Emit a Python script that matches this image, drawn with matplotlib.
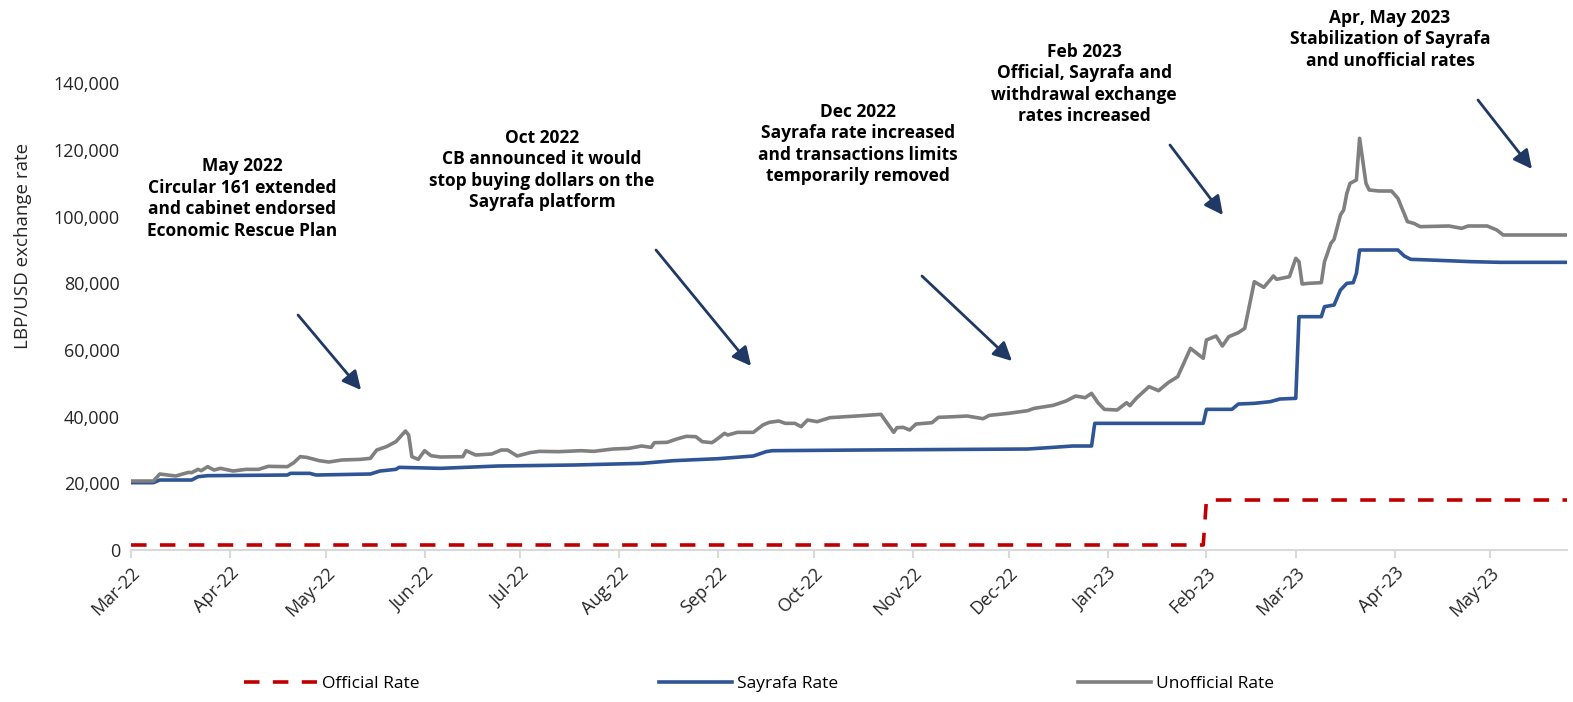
import pandas as pd
import matplotlib.pyplot as plt
import matplotlib.dates as mdates
from matplotlib.ticker import FuncFormatter

plt.rcParams['font.family'] = ['Open Sans', 'DejaVu Sans']

# Official rate (LBP per USD)
official_dates = ['2022-03-01', '2023-01-31', '2023-02-01', '2023-05-25']
official_vals = [1507, 1507, 15000, 15000]

# Sayrafa platform rate
sayrafa_dates = ['2022-03-01', '2022-03-08', '2022-03-10', '2022-03-20', '2022-03-22',
                 '2022-03-25', '2022-04-19', '2022-04-20', '2022-04-26', '2022-04-28',
                 '2022-05-15', '2022-05-18', '2022-05-23', '2022-05-24', '2022-06-06',
                 '2022-06-24', '2022-07-18', '2022-08-08', '2022-08-18', '2022-09-01',
                 '2022-09-12', '2022-09-16', '2022-09-18', '2022-10-16', '2022-12-07',
                 '2022-12-15', '2022-12-21', '2022-12-27', '2022-12-28', '2023-01-31',
                 '2023-02-01', '2023-02-09', '2023-02-11', '2023-02-16', '2023-02-21',
                 '2023-02-24', '2023-03-01', '2023-03-02', '2023-03-09', '2023-03-10',
                 '2023-03-13', '2023-03-15', '2023-03-17', '2023-03-19', '2023-03-20',
                 '2023-03-21', '2023-04-02', '2023-04-04', '2023-04-06', '2023-04-12',
                 '2023-04-25', '2023-05-04', '2023-05-25']
sayrafa_vals = [20200, 20200, 21000, 21000, 22000,
                22300, 22500, 23000, 23000, 22500,
                22800, 23700, 24200, 24800, 24500,
                25200, 25500, 26000, 26800, 27400,
                28200, 29500, 29800, 30000, 30300,
                30800, 31200, 31200, 38000, 38000,
                42200, 42200, 43800, 44000, 44500,
                45300, 45500, 70000, 70000, 73000,
                73500, 78000, 80000, 80200, 83000,
                90000, 90000, 88200, 87200, 87000,
                86500, 86300, 86300]

# Unofficial (parallel market) rate
unofficial_dates = ['2022-03-01', '2022-03-08', '2022-03-10', '2022-03-15', '2022-03-19',
                    '2022-03-20', '2022-03-22', '2022-03-23', '2022-03-25', '2022-03-27',
                    '2022-03-29', '2022-04-02', '2022-04-06', '2022-04-10', '2022-04-13',
                    '2022-04-19', '2022-04-21', '2022-04-23', '2022-04-25', '2022-04-29',
                    '2022-05-02', '2022-05-06', '2022-05-12', '2022-05-15', '2022-05-17',
                    '2022-05-20', '2022-05-23', '2022-05-26', '2022-05-27', '2022-05-28',
                    '2022-05-30', '2022-06-01', '2022-06-03', '2022-06-06', '2022-06-13',
                    '2022-06-14', '2022-06-17', '2022-06-22', '2022-06-25', '2022-06-27',
                    '2022-06-30', '2022-07-04', '2022-07-07', '2022-07-13', '2022-07-20',
                    '2022-07-24', '2022-07-30', '2022-08-04', '2022-08-08', '2022-08-11',
                    '2022-08-12', '2022-08-16', '2022-08-19', '2022-08-22', '2022-08-25',
                    '2022-08-27', '2022-08-30', '2022-08-31', '2022-09-03', '2022-09-04',
                    '2022-09-07', '2022-09-12', '2022-09-15', '2022-09-17', '2022-09-20',
                    '2022-09-22', '2022-09-25', '2022-09-27', '2022-09-29', '2022-10-02',
                    '2022-10-06', '2022-10-16', '2022-10-22', '2022-10-26', '2022-10-27',
                    '2022-10-29', '2022-10-31', '2022-11-02', '2022-11-07', '2022-11-09',
                    '2022-11-14', '2022-11-18', '2022-11-23', '2022-11-25', '2022-12-01',
                    '2022-12-07', '2022-12-09', '2022-12-15', '2022-12-19', '2022-12-22',
                    '2022-12-25', '2022-12-27', '2022-12-29', '2022-12-31', '2023-01-04',
                    '2023-01-07', '2023-01-08', '2023-01-10', '2023-01-14', '2023-01-17',
                    '2023-01-20', '2023-01-23', '2023-01-27', '2023-01-31', '2023-02-01',
                    '2023-02-04', '2023-02-06', '2023-02-08', '2023-02-11', '2023-02-13',
                    '2023-02-16', '2023-02-19', '2023-02-22', '2023-02-23', '2023-02-27',
                    '2023-03-01', '2023-03-02', '2023-03-03', '2023-03-05', '2023-03-09',
                    '2023-03-10', '2023-03-12', '2023-03-13', '2023-03-15', '2023-03-16',
                    '2023-03-17', '2023-03-18', '2023-03-20', '2023-03-21', '2023-03-23',
                    '2023-03-24', '2023-03-27', '2023-03-31', '2023-04-02', '2023-04-05',
                    '2023-04-07', '2023-04-09', '2023-04-18', '2023-04-22', '2023-04-24',
                    '2023-04-30', '2023-05-03', '2023-05-05', '2023-05-25']
unofficial_vals = [20700, 20700, 22800, 22200, 23300,
                   23200, 24200, 23800, 25000, 24000,
                   24500, 23700, 24200, 24200, 25100,
                   25000, 26200, 28000, 27800, 26800,
                   26400, 27000, 27200, 27500, 30000,
                   31000, 32500, 35700, 34500, 28000,
                   27200, 29800, 28300, 27900, 28000,
                   29800, 28500, 28800, 30000, 30000,
                   28200, 29200, 29600, 29500, 29800,
                   29600, 30300, 30500, 31200, 30800,
                   32200, 32300, 33300, 34100, 34000,
                   32500, 32200, 32800, 35000, 34500,
                   35300, 35300, 37500, 38300, 38700,
                   38000, 38000, 37000, 39000, 38500,
                   39700, 40300, 40700, 35300, 36700,
                   36800, 36000, 37800, 38200, 39800,
                   40000, 40200, 39400, 40400, 41000,
                   41800, 42500, 43400, 44700, 46200,
                   45700, 47000, 44200, 42200, 42000,
                   44200, 43300, 45500, 49000, 47800,
                   50200, 52000, 60500, 57500, 63000,
                   64200, 61200, 64000, 65200, 66500,
                   80500, 78800, 82200, 81200, 82000,
                   87500, 86500, 79800, 80000, 80200,
                   86500, 92000, 93200, 100500, 102000,
                   107000, 110000, 111000, 123500, 110000,
                   108000, 107700, 107700, 105500, 98500,
                   98000, 97000, 97200, 96500, 97200,
                   97200, 96000, 94500, 94500]

# annotation text, text position, arrow tail, arrow head (axes fractions)
notes = [
    ("May 2022\nCircular 161 extended\nand cabinet endorsed\nEconomic Rescue Plan",
     (0.0773, 0.753), (0.1163, 0.5035), (0.1602, 0.3428)),
    ("Oct 2022\nCB announced it would\nstop buying dollars on the\nSayrafa platform",
     (0.2862, 0.814), (0.3656, 0.6428), (0.4318, 0.3943)),
    ("Dec 2022\nSayrafa rate increased\nand transactions limits\ntemporarily removed",
     (0.5063, 0.870), (0.5508, 0.5871), (0.6135, 0.4050)),
    ("Feb 2023\nOfficial, Sayrafa and\nwithdrawal exchange\nrates increased",
     (0.6637, 0.9985), (0.7235, 0.8678), (0.7604, 0.7178)),
    ("Apr, May 2023\nStabilization of Sayrafa\nand unofficial rates",
     (0.8767, 1.094), (0.9380, 0.9642), (0.9756, 0.8164)),
]

fig = plt.figure(figsize=(15.73, 7.02), dpi=100)
ax = fig.add_axes([0.0833, 0.2165, 0.9129, 0.6648])

ax.plot(pd.to_datetime(official_dates), official_vals, color='#C00000', lw=2.6,
        ls=(0, (4.3, 3.7)), label='Official Rate')
ax.plot(pd.to_datetime(sayrafa_dates), sayrafa_vals, color='#2F5597', lw=2.6,
        label='Sayrafa Rate')
ax.plot(pd.to_datetime(unofficial_dates), unofficial_vals, color='#808080', lw=2.6,
        label='Unofficial Rate')

ax.set_xlim(pd.Timestamp('2022-03-01'), pd.Timestamp('2023-05-25'))
ax.set_ylim(0, 140000)
ax.set_yticks(range(0, 140001, 20000))
ax.yaxis.set_major_formatter(FuncFormatter(lambda v, p: f'{int(v):,}'))
ax.xaxis.set_major_locator(mdates.MonthLocator())
ax.xaxis.set_major_formatter(mdates.DateFormatter('%b-%y'))

for s in ['top', 'right', 'left']:
    ax.spines[s].set_visible(False)
ax.spines['bottom'].set_color('#D9D9D9')
ax.spines['bottom'].set_linewidth(1.5)
ax.tick_params(axis='y', length=0, labelsize=13, colors='#262626', pad=8)
ax.tick_params(axis='x', length=6, width=1.5, color='#D9D9D9', labelsize=13,
               labelcolor='#262626', pad=4)
plt.setp(ax.get_xticklabels(), rotation=45, ha='right', rotation_mode='anchor')
ax.set_ylabel('LBP/USD exchange rate', fontsize=13.5, color='#262626')
ax.yaxis.set_label_coords(-0.069, 0.652)

for txt, tpos, tail, head in notes:
    ax.text(tpos[0], tpos[1], txt, transform=ax.transAxes, ha='center', va='center',
            fontsize=12.5, fontweight='bold', color='black', linespacing=1.25,
            clip_on=False)
    ax.annotate('', xy=head, xytext=tail, xycoords='axes fraction',
                textcoords='axes fraction', annotation_clip=False,
                arrowprops=dict(arrowstyle='-|>', color='#1F3864', lw=2,
                                mutation_scale=28, shrinkA=0, shrinkB=0))

fig.legend(loc='lower center', bbox_to_anchor=(0.4825, -0.008), ncol=3,
           frameon=False, fontsize=12.5, handlelength=4.2, handletextpad=0.3,
           columnspacing=13.8)

fig.savefig('out.png', dpi=100)
